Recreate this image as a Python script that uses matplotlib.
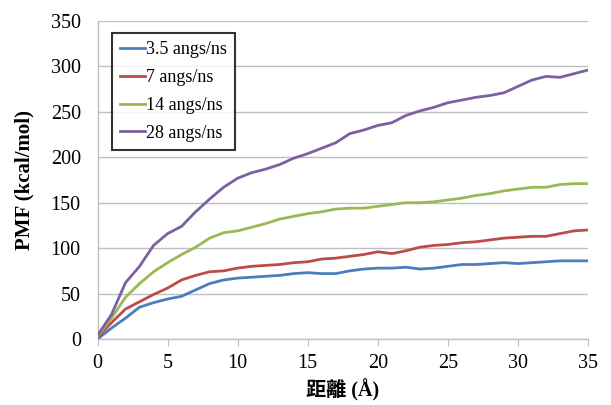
import matplotlib
matplotlib.use("Agg")
import matplotlib.pyplot as plt

distance = list(range(0, 36))
series_labels = ["3.5 angs/ns", "7 angs/ns", "14 angs/ns", "28 angs/ns"]
pmf_3_5 = [0, 12, 23, 35, 40, 44, 47, 54, 61, 65, 67, 68, 69, 70, 72, 73, 72, 72, 75, 77,
           78, 78, 79, 77, 78, 80, 82, 82, 83, 84, 83, 84, 85, 86, 86, 86]
pmf_7 = [2, 18, 33, 41, 49, 56, 65, 70, 74, 75, 78, 80, 81, 82, 84, 85, 88, 89, 91, 93,
         96, 94, 97, 101, 103, 104, 106, 107, 109, 111, 112, 113, 113, 116, 119, 120]
pmf_14 = [3, 23, 46, 61, 74, 84, 93, 101, 111, 117, 119, 123, 127, 132, 135, 138, 140, 143,
          144, 144, 146, 148, 150, 150, 151, 153, 155, 158, 160, 163, 165, 167, 167, 170, 171, 171]
pmf_28 = [4, 27, 62, 80, 103, 116, 124, 140, 154, 167, 177, 183, 187, 192, 199, 204, 210, 216,
          226, 230, 235, 238, 246, 251, 255, 260, 263, 266, 268, 271, 278, 285, 289, 288, 292, 296]
colors = ["#4A7EBB", "#BE4B48", "#98B954", "#7D60A0"]
x_ticks = [0, 5, 10, 15, 20, 25, 30, 35]
y_ticks = [0, 50, 100, 150, 200, 250, 300, 350]

plt.rcParams['font.family'] = ['Liberation Serif', 'Noto Sans CJK TC', 'DejaVu Sans']

fig = plt.figure(figsize=(6.11, 4.05), dpi=100)
ax = fig.add_axes([97.5 / 611, 1 - 339 / 405, 490.5 / 611, 318 / 405])

for vals, lab, c in zip([pmf_3_5, pmf_7, pmf_14, pmf_28], series_labels, colors):
    ax.plot(distance, vals, color=c, lw=2.0, label=lab, zorder=3)

ax.set_xlim(0, 35)
ax.set_ylim(0, 350)
ax.set_xticks(x_ticks)
ax.set_yticks(y_ticks)
ax.grid(axis='y', color='#BFBFBF', lw=1.0)
ax.set_axisbelow(True)
for s in ['top', 'right']:
    ax.spines[s].set_visible(False)
for s in ['left', 'bottom']:
    ax.spines[s].set_color('#BFBFBF')
    ax.spines[s].set_linewidth(1.0)
ax.tick_params(axis='y', length=0, labelsize=14.5, pad=12)
ax.tick_params(axis='x', length=5, color='#BFBFBF', labelsize=14.5, pad=6, direction='out')

ax.set_ylabel("PMF (kcal/mol)", fontsize=15, fontweight='bold', labelpad=12)
ax.set_xlabel("距離 (Å)", fontsize=14.5, fontweight='bold', labelpad=4)

leg = ax.legend(loc='upper left', bbox_to_anchor=(0.0296, 0.962), borderaxespad=0,
                fontsize=13, frameon=True, fancybox=False, handlelength=1.4,
                handletextpad=0.05, labelspacing=0.6, borderpad=0.45)
leg.get_frame().set_edgecolor('black')
leg.get_frame().set_linewidth(1.5)

fig.savefig("out.png", dpi=100)
